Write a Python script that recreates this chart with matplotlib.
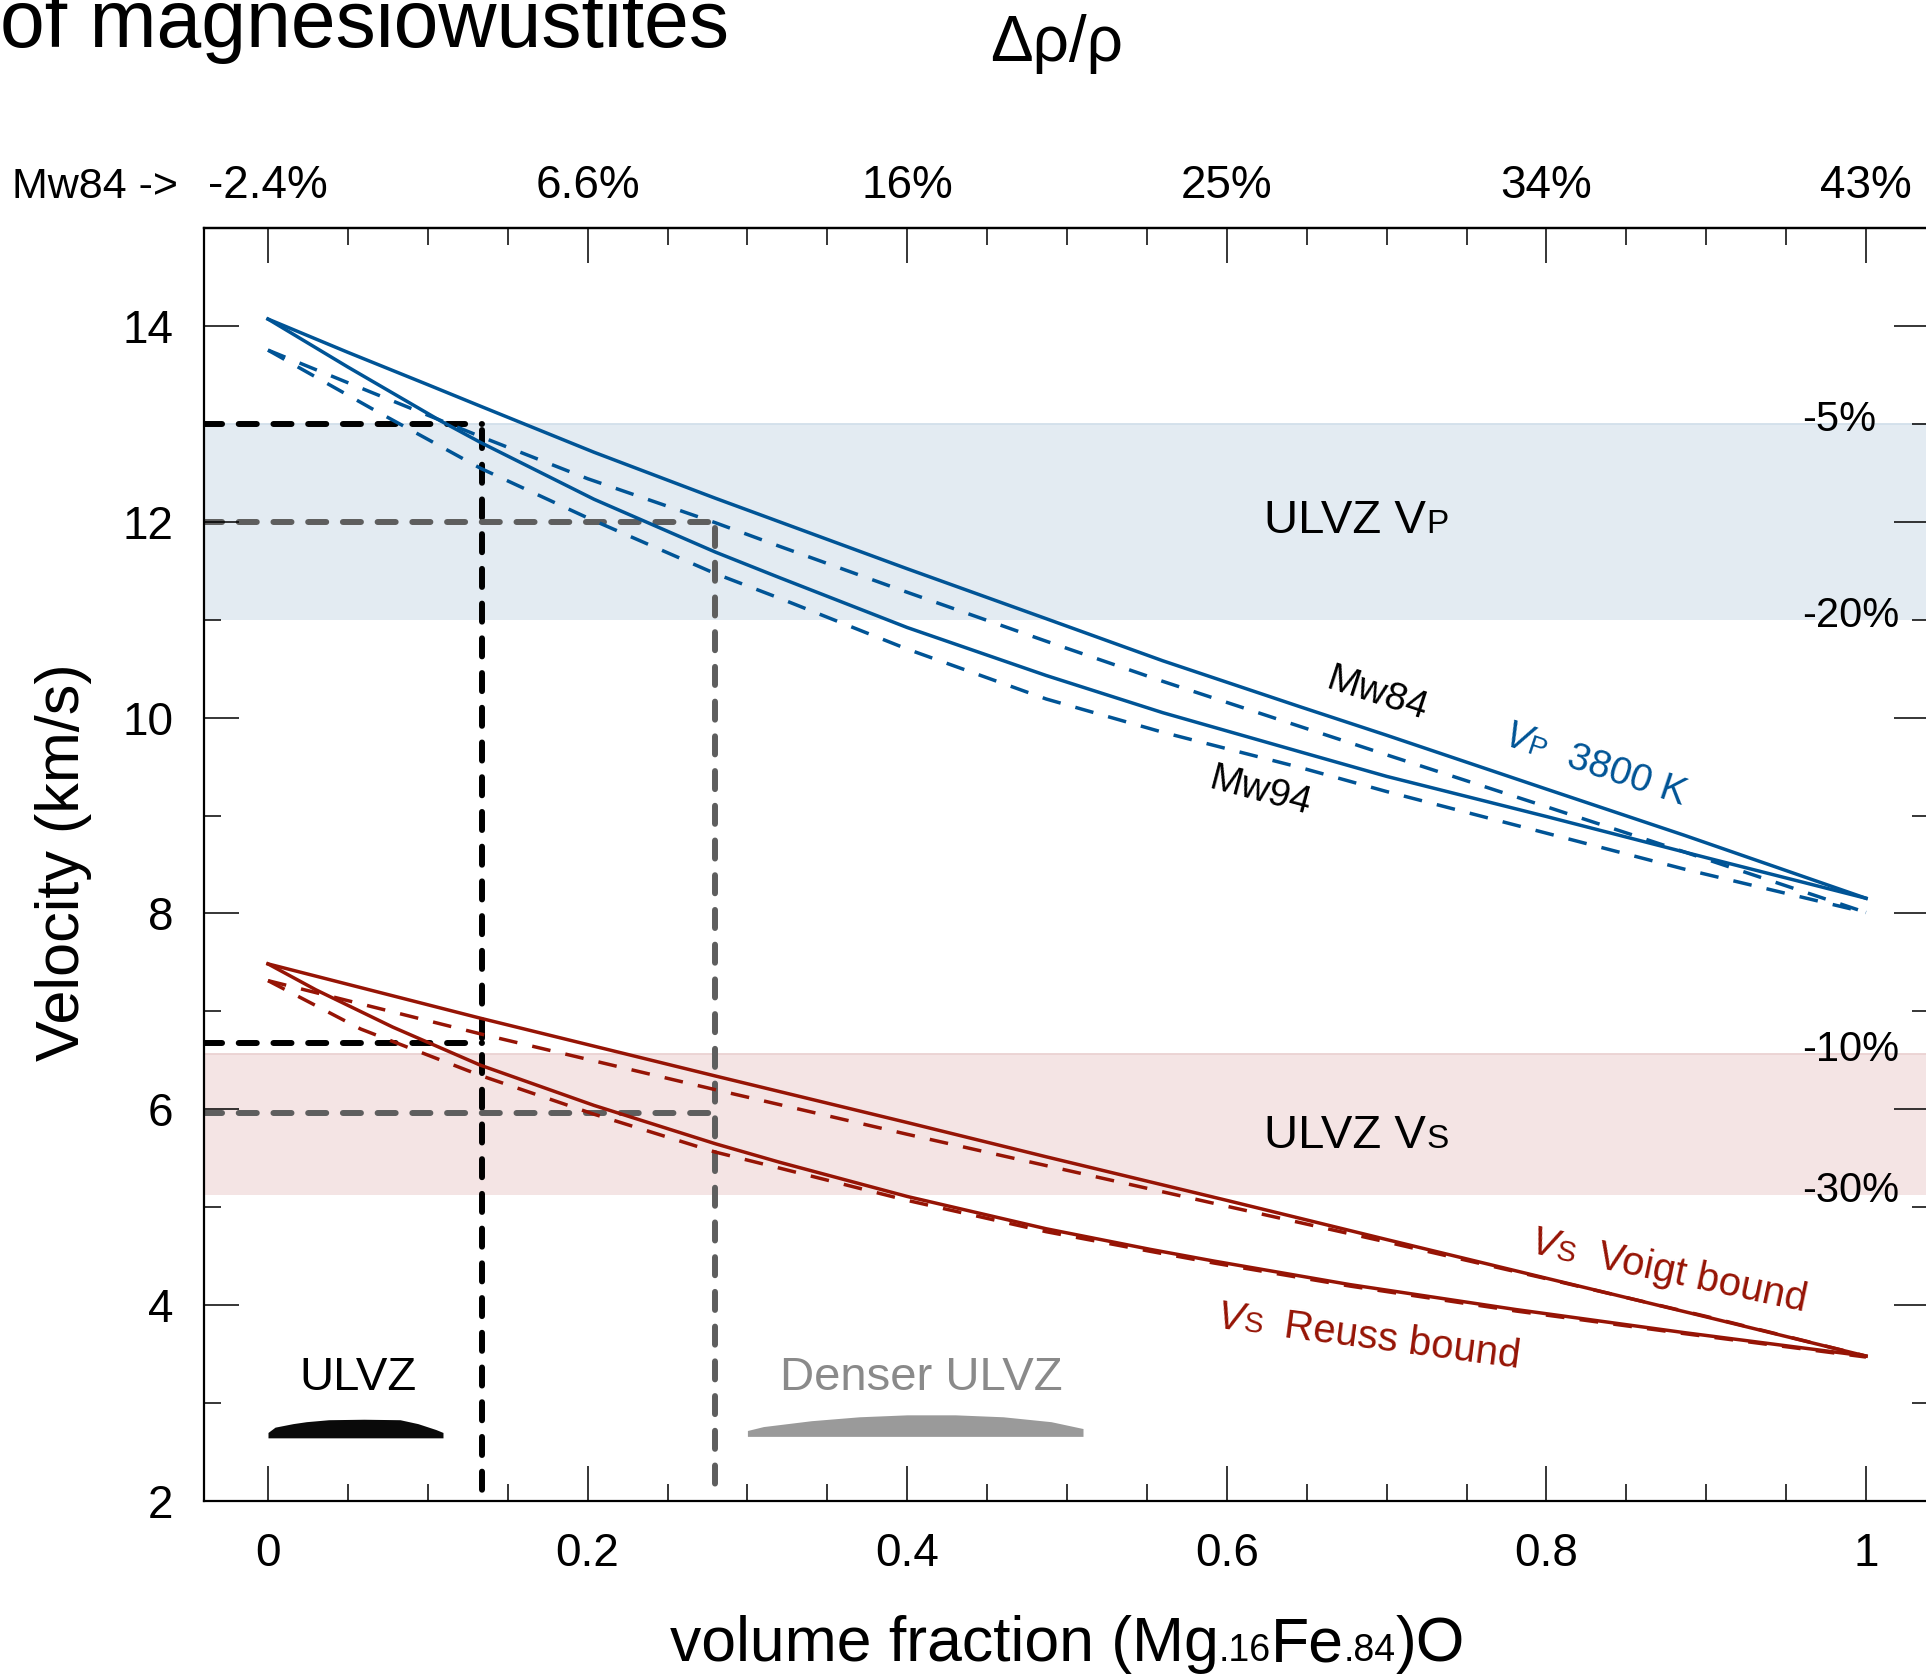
import numpy as np
import matplotlib
matplotlib.use("Agg")
import matplotlib.pyplot as plt
from matplotlib.ticker import MultipleLocator

plt.rcParams["font.family"] = ["Liberation Sans", "DejaVu Sans"]
plt.rcParams["lines.scale_dashes"] = False

# ---------------------------------------------------------------- data
# volume fraction of (Mg.16Fe.84)O and velocities (km/s)
vp_solid_hi_x = [0.0, 0.05, 0.10, 0.133, 0.204, 0.28, 0.32, 0.40, 0.487, 0.56, 0.646, 0.70, 0.80, 0.886, 1.0]
vp_solid_hi_y = [14.07, 13.73, 13.40, 13.18, 12.71, 12.24, 12.00, 11.52, 11.01, 10.58, 10.11, 9.82, 9.27, 8.80, 8.155]

vp_solid_lo_x = [0.0, 0.05, 0.108, 0.133, 0.204, 0.28, 0.32, 0.40, 0.487, 0.56, 0.646, 0.70, 0.80, 0.90, 1.0]
vp_solid_lo_y = [14.07, 13.58, 13.03, 12.81, 12.23, 11.69, 11.43, 10.92, 10.43, 10.05, 9.65, 9.40, 8.99, 8.57, 8.155]

vp_dash_hi_x = [0.0, 0.065, 0.133, 0.20, 0.28, 0.32, 0.40, 0.487, 0.56, 0.642, 0.70, 0.80, 0.886, 1.0]
vp_dash_hi_y = [13.753, 13.32, 12.87, 12.44, 11.99, 11.75, 11.28, 10.78, 10.37, 9.93, 9.62, 9.09, 8.63, 8.01]

vp_dash_lo_x = [0.0, 0.065, 0.133, 0.20, 0.28, 0.32, 0.40, 0.487, 0.56, 0.646, 0.70, 0.80, 0.886, 1.0]
vp_dash_lo_y = [13.753, 13.155, 12.546, 12.04, 11.47, 11.22, 10.70, 10.19, 9.85, 9.49, 9.245, 8.82, 8.454, 8.01]

vs_solid_hi_x = [0.0, 0.133, 0.28, 0.40, 0.487, 0.60, 0.70, 0.80, 0.90, 1.0]
vs_solid_hi_y = [7.485, 6.93, 6.34, 5.865, 5.515, 5.07, 4.67, 4.275, 3.88, 3.48]

vs_dash_hi_x = [0.0, 0.133, 0.28, 0.40, 0.487, 0.60, 0.70, 0.80, 0.90, 1.0]
vs_dash_hi_y = [7.314, 6.77, 6.20, 5.745, 5.425, 5.01, 4.645, 4.27, 3.885, 3.48]

vs_solid_lo_x = [0.0, 0.03, 0.078, 0.133, 0.204, 0.28, 0.32, 0.40, 0.487, 0.552, 0.592, 0.677, 0.781, 0.886, 1.0]
vs_solid_lo_y = [7.485, 7.22, 6.84, 6.45, 6.04, 5.648, 5.46, 5.11, 4.78, 4.57, 4.45, 4.21, 3.955, 3.72, 3.48]

vs_dash_lo_x = [0.0, 0.058, 0.133, 0.204, 0.28, 0.32, 0.40, 0.487, 0.552, 0.592, 0.677, 0.781, 0.886, 1.0]
vs_dash_lo_y = [7.314, 6.82, 6.345, 5.95, 5.563, 5.40, 5.07, 4.75, 4.55, 4.43, 4.195, 3.94, 3.71, 3.47]

# ULVZ velocity windows (km/s)
vp_window = [11.0, 13.0]
vs_window = [5.12, 6.56]
vp_window_labels = ["-20%", "-5%"]
vs_window_labels = ["-30%", "-10%"]

# guide lines: (fraction, Vp, Vs)
ulvz_guide = [0.134, 13.0, 6.68]
denser_guide = [0.28, 12.0, 5.96]

# ULVZ cartoon profiles (fraction, height)
ulvz_blob_x = [0.0, 0.0044, 0.0156, 0.024, 0.038, 0.06, 0.0826, 0.0938, 0.105, 0.1095]
ulvz_blob_top = [2.70, 2.754, 2.79, 2.81, 2.83, 2.835, 2.83, 2.79, 2.73, 2.70]
ulvz_blob_base = 2.645
denser_blob_x = [0.300, 0.31, 0.34, 0.37, 0.40, 0.43, 0.46, 0.49, 0.51]
denser_blob_top = [2.72, 2.76, 2.82, 2.86, 2.88, 2.88, 2.86, 2.81, 2.74]
denser_blob_base = 2.66

# axes ticks
x_ticks = [0.0, 0.2, 0.4, 0.6, 0.8, 1.0]
x_tick_labels = ["0", "0.2", "0.4", "0.6", "0.8", "1"]
y_ticks = [2, 4, 6, 8, 10, 12, 14]
drho_labels = ["-2.4%", "6.6%", "16%", "25%", "34%", "43%"]

# ---------------------------------------------------------------- style
BLUE = "#005496"
RED = "#961405"
GUIDE_BLACK = "#000000"
GUIDE_GRAY = "#5e5e5e"
W, H, DPI = 1926, 1676, 100

fig = plt.figure(figsize=(W / DPI, H / DPI), dpi=DPI)
ax_left, ax_right, ax_top, ax_bot = 204, 1929, 228, 1501
ax = fig.add_axes([ax_left / W, (H - ax_bot) / H, (ax_right - ax_left) / W, (ax_bot - ax_top) / H])
ax.set_xlim(-0.04005, 1.0394)
ax.set_ylim(2, 15)

# velocity windows
ax.axhspan(vp_window[0], vp_window[1], color="#e3ebf2", lw=0, zorder=0)
ax.axhline(vp_window[1], color="#d2dfeb", lw=1.3, zorder=0.5)
ax.axhspan(vs_window[0], vs_window[1], color="#f4e4e4", lw=0, zorder=0)
ax.axhline(vs_window[1], color="#ebd2d2", lw=1.3, zorder=0.5)

# guide lines
x0 = ax.get_xlim()[0]
guide_dash = (0, (13.0, 12.0))
for (gx, gvp, gvs), col in ((ulvz_guide, GUIDE_BLACK), (denser_guide, GUIDE_GRAY)):
    kw = dict(color=col, lw=4.3, linestyle=guide_dash, dash_capstyle="round", zorder=1)
    ax.plot([x0, gx], [gvp, gvp], **kw)
    ax.plot([x0, gx], [gvs, gvs], **kw)
    ax.plot([gx, gx], [gvp - 0.06, 2.08], **kw)

# velocity curves
curve_dash = (0, (13.5, 11.0))
for xs, ys, col, ls in (
    (vp_solid_hi_x, vp_solid_hi_y, BLUE, "-"),
    (vp_solid_lo_x, vp_solid_lo_y, BLUE, "-"),
    (vp_dash_hi_x, vp_dash_hi_y, BLUE, curve_dash),
    (vp_dash_lo_x, vp_dash_lo_y, BLUE, curve_dash),
    (vs_solid_hi_x, vs_solid_hi_y, RED, "-"),
    (vs_solid_lo_x, vs_solid_lo_y, RED, "-"),
    (vs_dash_hi_x, vs_dash_hi_y, RED, curve_dash),
    (vs_dash_lo_x, vs_dash_lo_y, RED, curve_dash),
):
    ax.plot(xs, ys, color=col, lw=2.5, linestyle=ls, zorder=3, solid_joinstyle="round")

# ULVZ cartoons
ax.fill_between(ulvz_blob_x, ulvz_blob_base, ulvz_blob_top, color="#0a0a0a", lw=0, zorder=2)
ax.fill_between(denser_blob_x, denser_blob_base, denser_blob_top, color="#9a9a9a", lw=0, zorder=2)

# ---------------------------------------------------------------- axes
ax.set_xticks(x_ticks, labels=x_tick_labels)
ax.set_yticks(y_ticks, labels=[str(v) for v in y_ticks])
ax.xaxis.set_minor_locator(MultipleLocator(0.05))
ax.yaxis.set_minor_locator(MultipleLocator(1))
ax.tick_params(which="major", direction="in", length=25, width=1.1, labelsize=33, pad=22,
               right=True, top=False)
ax.tick_params(which="minor", direction="in", length=12.5, width=1.1, right=True, top=False)
for s in ax.spines.values():
    s.set_linewidth(1.6)

top = ax.secondary_xaxis("top")
top.set_xticks(x_ticks, labels=drho_labels)
top.xaxis.set_minor_locator(MultipleLocator(0.05))
top.tick_params(which="major", direction="in", length=25, width=1.1, labelsize=33, pad=14.5)
top.tick_params(which="minor", direction="in", length=12.5, width=1.1)
top.spines["top"].set_linewidth(1.6)

# ---------------------------------------------------------------- text
renderer = fig.canvas.get_renderer()


def pieces_text(x, y, pieces, xycoords="data", angle=0.0, align="left", color="black"):
    """Write a run of differently sized / styled strings along one baseline."""
    widths, gaps = [], []
    for p in pieces:
        style = p[2] if len(p) > 2 else "normal"
        t = fig.text(0, 0, p[0], fontsize=p[1], style=style)
        widths.append(t.get_window_extent(renderer=renderer).width)
        gaps.append(p[3] if len(p) > 3 else 0.0)
        t.remove()
    total = sum(widths) + sum(gaps[:-1])
    off = -total / 2 if align == "center" else 0.0
    th = np.deg2rad(angle)
    k = 72.0 / DPI
    for p, w, g in zip(pieces, widths, gaps):
        style = p[2] if len(p) > 2 else "normal"
        ax.annotate(p[0], xy=(x, y), xycoords=xycoords,
                    xytext=(off * k * np.cos(th), off * k * np.sin(th)), textcoords="offset points",
                    rotation=angle, rotation_mode="anchor", ha="left", va="baseline",
                    fontsize=p[1], style=style, color=color, zorder=6, annotation_clip=False)
        off += w + g


# band labels
pieces_text(0.681, 11.89, [("ULVZ V", 34), ("P", 24)], align="center")
pieces_text(0.681, 5.60, [("ULVZ V", 34), ("S", 24)], align="center")
for val, lab in zip(vp_window + vs_window, vp_window_labels + vs_window_labels):
    ax.text(0.96, val - 0.07, lab, fontsize=30, ha="left", va="baseline", zorder=6)

# curve labels
pieces_text(0.661, 10.30, [("Mw84", 28)], angle=-18)
pieces_text(0.588, 9.28, [("Mw94", 28)], angle=-15)
pieces_text(0.772, 9.72, [("V", 28, "italic"), ("P", 20, "normal", 22), ("3800 K", 28)],
            angle=-18.5, color=BLUE)
pieces_text(0.789, 4.53, [("V", 29, "italic"), ("S", 21, "normal", 22), ("Voigt bound", 29)],
            angle=-12, color=RED)
pieces_text(0.593, 3.77, [("V", 29, "italic"), ("S", 21, "normal", 22), ("Reuss bound", 29)],
            angle=-7.5, color=RED)

# cartoon labels
ax.text(0.0563, 3.13, "ULVZ", fontsize=34, ha="center", va="baseline", zorder=6)
ax.text(0.409, 3.13, "Denser ULVZ", fontsize=34, ha="center", va="baseline", color="#8a8a8a", zorder=6)

# axis titles
fig.text(64 / W, 1 - 862 / H, "Velocity (km/s)", rotation=90, fontsize=44, ha="center", va="center")
pieces_text(1067.5, H - 1661,
            [("volume fraction (Mg", 45), (".16", 27), ("Fe", 45), (".84", 27), (")O", 45)],
            xycoords="figure pixels", align="center")
fig.text(1057 / W, 1 - 61 / H, "Δρ/ρ", fontsize=46, ha="center", va="baseline")
fig.text(12 / W, 1 - 198 / H, "Mw84 ->", fontsize=31, ha="left", va="baseline")
fig.text(0.0, 1 - 47 / H, "of magnesiowustites", fontsize=58, ha="left", va="baseline")

fig.savefig("out.png", dpi=DPI)
